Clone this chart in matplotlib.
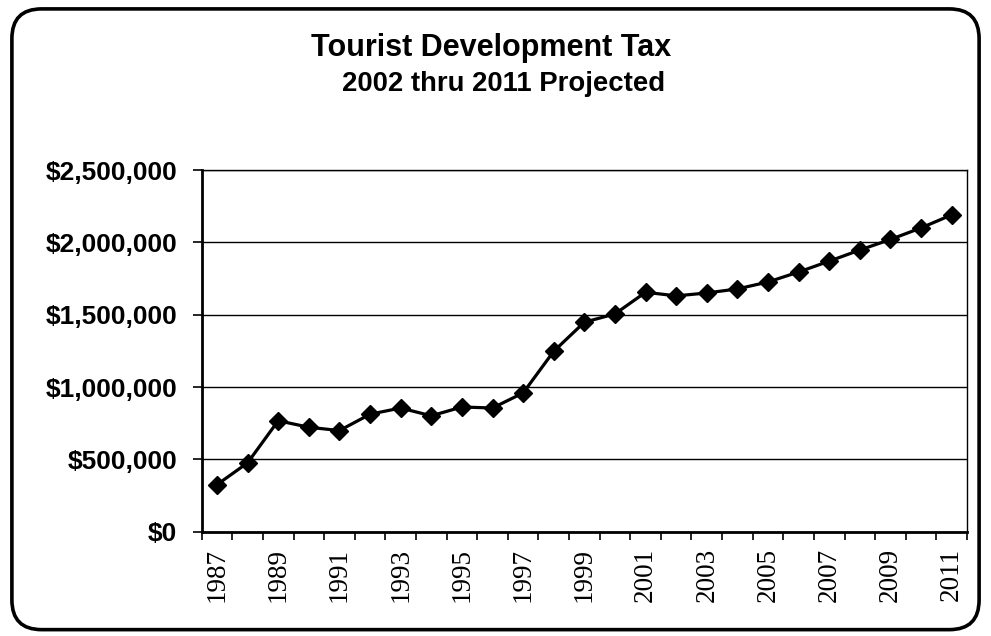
import matplotlib
matplotlib.use("Agg")
import matplotlib.pyplot as plt
from matplotlib.patches import FancyBboxPatch
from matplotlib.ticker import FuncFormatter, FixedLocator

years = list(range(1987, 2012))
revenue = [325000, 476000, 767000, 722000, 699000, 812000, 855000, 801000,
           862000, 855000, 959000, 1247000, 1448000, 1505000, 1655000,
           1630000, 1650000, 1678000, 1726000, 1795000, 1870000, 1947000,
           2020000, 2100000, 2190000]
yticks = [0, 500000, 1000000, 1500000, 2000000, 2500000]
title = "Tourist Development Tax"
subtitle = "2002 thru 2011 Projected"

sans = ["Liberation Sans", "DejaVu Sans"]
serif = ["Liberation Serif", "DejaVu Serif"]

fig = plt.figure(figsize=(9.91, 6.36), dpi=100)
fig.patch.set_facecolor("white")

# rounded chart border
border = FancyBboxPatch((0.012, 0.01), 0.976, 0.976,
                        boxstyle="round,pad=0,rounding_size=0.03",
                        transform=fig.transFigure, fill=False,
                        edgecolor="black", linewidth=2.6, zorder=0,
                        mutation_aspect=991/636)
fig.patches.append(border)

ax = fig.add_axes([0.2035, 0.164, 0.7723, 0.5687])
ax.plot(years, revenue, color="black", linewidth=2.3, marker="D",
        markersize=9.0, markerfacecolor="black", markeredgecolor="black",
        zorder=3)

ax.set_xlim(years[0] - 0.5, years[-1] + 0.5)
ax.set_ylim(0, 2500000)
ax.set_yticks(yticks)
ax.yaxis.set_major_formatter(FuncFormatter(lambda v, p: "${:,.0f}".format(v)))
ax.grid(axis="y", color="black", linewidth=1.0)
ax.set_axisbelow(True)

label_years = years[::2]
ax.set_xticks(label_years)
ax.set_xticklabels([str(y) for y in label_years], rotation=90,
                   family=serif, fontsize=19.5)
ax.tick_params(axis="x", which="major", length=0, pad=12)
ax.xaxis.set_minor_locator(FixedLocator([y - 0.5 for y in years] + [years[-1] + 0.5]))
ax.tick_params(axis="x", which="minor", length=6, width=1.2, direction="out")
ax.tick_params(axis="y", length=6.5, width=1.2, direction="out", pad=11)
for lab in ax.get_yticklabels():
    lab.set_fontfamily(sans)
    lab.set_fontweight("bold")
    lab.set_fontsize(19)

ax.spines["left"].set_linewidth(2.0)
ax.spines["bottom"].set_linewidth(2.0)
ax.spines["right"].set_linewidth(1.0)
ax.spines["top"].set_linewidth(1.0)

fig.text(0.4955, 0.924, title, ha="center", va="center", fontsize=22,
         fontweight="bold", family=sans)
fig.text(0.508, 0.868, subtitle, ha="center", va="center", fontsize=19.8,
         fontweight="bold", family=sans)

fig.savefig("out.png", dpi=100)
